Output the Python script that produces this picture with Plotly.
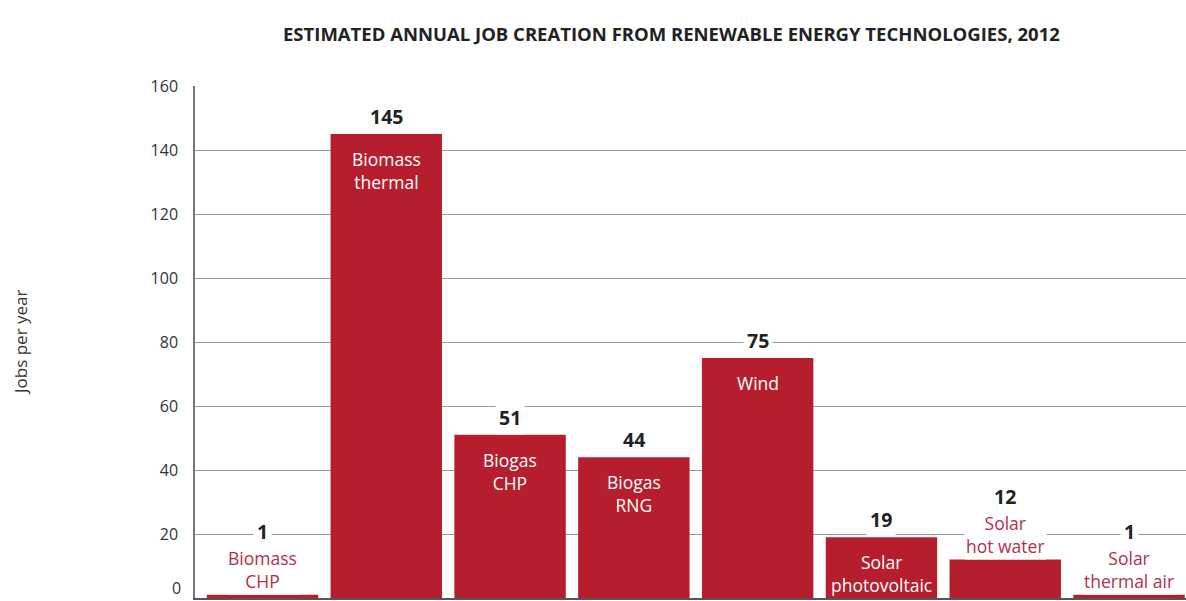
import plotly.graph_objects as go

categories = ["Biomass<br>CHP", "Biomass<br>thermal", "Biogas<br>CHP", "Biogas<br>RNG", "Wind",
              "Solar<br>photovoltaic", "Solar<br>hot water", "Solar<br>thermal air"]
jobs = [1, 145, 51, 44, 75, 19, 12, 1]
label_inside = [False, True, True, True, True, True, False, False]
y_ticks = [0, 20, 40, 60, 80, 100, 120, 140, 160]

BAR = "#B71E2D"
RED_TXT = "#B2304A"
FONT = "Open Sans"

x = list(range(len(categories)))
fig = go.Figure(go.Bar(x=x, y=jobs, marker=dict(color=BAR, line=dict(width=0)), width=0.9,
                       hoverinfo="skip"))

ann = []
for i, (c, v, inside) in enumerate(zip(categories, jobs, label_inside)):
    if inside:
        ann.append(dict(x=i, y=v, xref="x", yref="y", text=c, showarrow=False, yanchor="top",
                        yshift=-11, font=dict(family=FONT, size=17.5, color="white"), align="center"))
        ann.append(dict(x=i, y=v, xref="x", yref="y", text="<b>%d</b>" % v, showarrow=False,
                        yanchor="bottom", yshift=0, bgcolor="white", borderpad=3,
                        font=dict(family=FONT, size=19.5, color="#222")))
    else:
        ann.append(dict(x=i, y=v, xref="x", yref="y", text=c, showarrow=False, yanchor="bottom",
                        yshift=0, bgcolor="white", borderpad=1,
                        font=dict(family=FONT, size=17.5, color=RED_TXT), align="center"))
        ann.append(dict(x=i, y=v, xref="x", yref="y", text="<b>%d</b>" % v, showarrow=False,
                        yanchor="bottom", yshift=46, bgcolor="white", borderpad=3,
                        font=dict(family=FONT, size=19.5, color="#222")))

# zero tick label sits slightly above the baseline in the reference
ann.append(dict(x=0, y=y_ticks[0], xref="paper", yref="y", text=str(y_ticks[0]), showarrow=False,
                xanchor="right", xshift=-12, yshift=10,
                font=dict(family=FONT, size=16, color="#333")))
ann.append(dict(x=(20 - 195) / 991, y=0.5, xref="paper", yref="paper", text="Jobs per year",
                textangle=-90, showarrow=False, xanchor="center",
                font=dict(family=FONT, size=17, color="#333")))
ann.append(dict(x=(671 - 195) / 991, y=1 + (86 - 19) / 512, xref="paper", yref="paper",
                text="<b>ESTIMATED ANNUAL JOB CREATION FROM RENEWABLE ENERGY TECHNOLOGIES, 2012</b>",
                showarrow=False, font=dict(family=FONT, size=18.5, color="#222")))

fig.update_layout(
    width=1186, height=601,
    margin=dict(l=195, r=0, t=86, b=3),
    plot_bgcolor="white", paper_bgcolor="white",
    showlegend=False,
    annotations=ann,
    xaxis=dict(range=[-0.545, 7.46], showticklabels=False, showgrid=False, zeroline=False,
               showline=True, linecolor="#555", linewidth=2, ticks=""),
    yaxis=dict(range=[0, 160], tickvals=y_ticks,
               ticktext=[""] + [str(t) for t in y_ticks[1:]],
               showgrid=True, gridcolor="#9a9a9a", gridwidth=1,
               zeroline=False, showline=True, linecolor="#777", linewidth=1.5, ticks="",
               tickfont=dict(family=FONT, size=16, color="#333"), ticklabelstandoff=12),
)
fig.write_html("out.html", config={"displayModeBar": False},
               post_script="document.body.style.margin='0';document.body.style.overflow='hidden';")
